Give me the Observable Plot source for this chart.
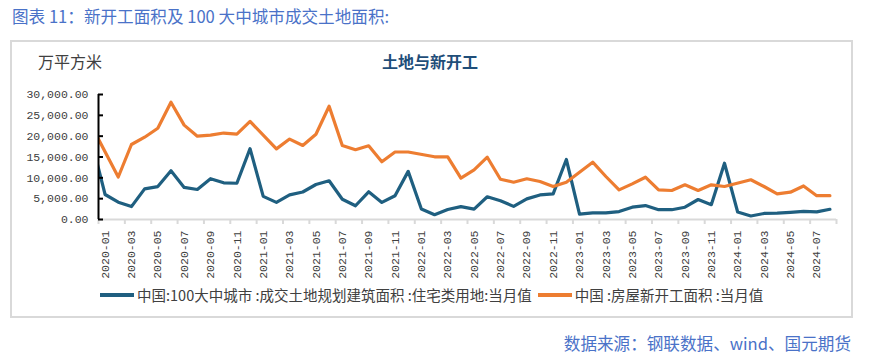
<!DOCTYPE html>
<html><head><meta charset="utf-8">
<script src="https://cdn.jsdelivr.net/npm/d3@7"></script>
<script src="https://cdn.jsdelivr.net/npm/@observablehq/plot@0.6"></script>
<style>
body{margin:0;width:869px;height:363px;position:relative;background:#fff;font-family:"Noto Sans CJK SC","Noto Sans",sans-serif;overflow:hidden}
#title{position:absolute;left:12px;top:5px;font-size:16.6px;color:#4a72c8;white-space:nowrap;line-height:22px}
#box{position:absolute;left:10px;top:40px;width:843px;height:278px;border:2px solid #d9d9d9;box-sizing:border-box}
#unit{position:absolute;left:38px;top:50px;font-size:16px;color:#404040;line-height:22px}
#ctitle{position:absolute;left:382px;top:50px;font-size:16px;font-weight:bold;color:#1f4e79;line-height:22px}
#chart{position:absolute;left:0;top:0}
#legend{position:absolute;left:100px;top:285px;font-size:14.5px;color:#404040;display:flex;align-items:center;white-space:nowrap;line-height:20px}
.sw{display:inline-block;width:34px;height:4px;margin-right:3px}
#source{position:absolute;right:18px;top:331px;font-size:16.6px;color:#4a72c8;white-space:nowrap;line-height:24px}
</style></head><body>
<div id="title">图表 11：新开工面积及 100 大中城市成交土地面积:</div>
<div id="box"></div>
<div id="unit">万平方米</div>
<div id="ctitle">土地与新开工</div>
<div id="chart"></div>
<div id="legend"><span class="sw" style="background:#1f5f80"></span><span>中国:100大中城市 :成交土地规划建筑面积 :住宅类用地:当月值</span><span class="sw" style="background:#ed7d31;margin-left:6px"></span><span>中国 :房屋新开工面积 :当月值</span></div>
<div id="source">数据来源：钢联数据、wind、国元期货</div>
<script>
// months 2019-12 .. 2024-08 (2019-12 lies just left of the plot frame and is clipped)
const months = d3.utcMonths(new Date(Date.UTC(2019, 11, 1)), new Date(Date.UTC(2024, 8, 1))).map(d3.utcFormat("%Y-%m"));

const seriesLand = "中国:100大中城市:成交土地规划建筑面积:住宅类用地:当月值";
const seriesStarts = "中国:房屋新开工面积:当月值";

// values aligned with months (first entry = 2019-12)
const landArea = [
  18500,
  6000, 4150, 3100, 7350, 7900, 11700, 7700, 7200, 9800, 8800, 8700, 17000,
  5550, 4100, 5900, 6600, 8400, 9300, 4850, 3300, 6650, 4100, 5700, 11550,
  2500, 1150, 2400, 3100, 2500, 5450, 4500, 3150, 4950, 5900, 6150, 14400,
  1300, 1600, 1600, 1900, 2950, 3350, 2350, 2350, 2950, 4800, 3550, 13500,
  1800, 850, 1450, 1520, 1700, 1950, 1820, 2450
];
const newStarts = [
  22300,
  null, 10200, 18000, 19750, 21900, 28150, 22650, 20000, 20250, 20750, 20500, 23550,
  null, 16950, 19300, 17760, 20470, 27190, 17760, 16760, 17700, 13850, 16200, 16200,
  null, 15050, 15050, 9950, 11930, 14950, 9670, 8950, 9770, 9120, 7920, 8950,
  null, 13750, 10320, 7120, 8560, 10150, 7120, 6960, 8320, 6960, 8320, 7920,
  null, 9530, 7920, 6170, 6550, 8050, 5720, 5720
];

const yTicks = [0, 5000, 10000, 15000, 20000, 25000, 30000];
const xTickPos = d3.range(-0.5, 56, 2);   // tick marks between categories
const xLabelPos = d3.range(0, 55, 2);     // label every other month

const rows = (arr) => arr.map((v, k) => ({i: k - 1, v})).filter(d => d.v != null);

const chart = Plot.plot({
  width: 869, height: 290,
  marginTop: 94, marginBottom: 71, marginLeft: 98, marginRight: 33,
  style: {background: "transparent", overflow: "visible"},
  x: {type: "linear", domain: [-0.5, 55.5], label: null},
  y: {domain: [0, 30000], label: null},
  marks: [
    Plot.ruleY([0], {stroke: "#d9d9d9", strokeWidth: 2}),
    Plot.axisX({ticks: xTickPos, tickSize: 5, tickFormat: () => "", stroke: "#d9d9d9", strokeWidth: 2, label: null}),
    Plot.axisX({ticks: xLabelPos, tickFormat: i => months[i + 1], rotate: -90, textAnchor: "end", lineAnchor: "middle",
      tickSize: 0, tickPadding: 11, fontSize: 11.5, fontFamily: "Liberation Mono", fill: "#404040", label: null}),
    Plot.line(rows(landArea), {x: "i", y: "v", stroke: "#1f5f80", strokeWidth: 3.2, clip: true, title: () => seriesLand}),
    Plot.line(rows(newStarts), {x: "i", y: "v", stroke: "#ed7d31", strokeWidth: 3.2, clip: true, title: () => seriesStarts}),
    Plot.ruleX([-0.5], {stroke: "black", strokeWidth: 2}),
    Plot.axisY({ticks: yTicks, tickSize: 5, dx: 5, tickFormat: () => "", stroke: "black", strokeWidth: 2, label: null}),
    Plot.axisY({ticks: yTicks, tickFormat: d3.format(",.2f"), tickSize: 0, tickPadding: 10,
      fontSize: 11.5, fontFamily: "Liberation Mono", fill: "#404040", label: null})
  ]
});
document.getElementById("chart").appendChild(chart);
</script>
</body></html>
